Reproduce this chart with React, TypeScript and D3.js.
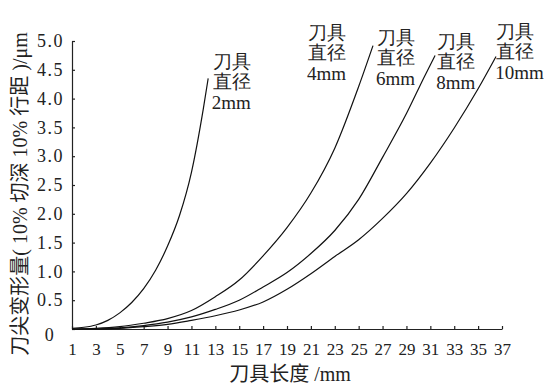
import React, { useEffect, useRef } from 'react';
import * as d3 from 'd3';

// tick values
const xTicks = [1, 3, 5, 7, 9, 11, 13, 15, 17, 19, 21, 23, 25, 27, 29, 31, 33, 35, 37];
const yTicks = [0, 0.5, 1, 1.5, 2, 2.5, 3, 3.5, 4, 4.5, 5];
const yTickLabels = ['0', '0.5', '1.0', '1.5', '2.0', '2.5', '3.0', '3.5', '4.0', '4.5', '5.0'];

// 2mm tool
const len2 = [1, 2, 3, 4, 5, 6, 7, 8, 9, 10, 11, 12, 12.4];
const dev2 = [0.01, 0.03, 0.07, 0.15, 0.28, 0.46, 0.7, 1.02, 1.44, 1.97, 2.72, 3.83, 4.35];

// the three larger tools (left to right)
const lenA = [1, 3, 5, 7, 9, 11, 13, 15, 17, 19, 21, 23, 25, 26.2];
const devA = [0, 0.01, 0.04, 0.1, 0.18, 0.32, 0.56, 0.85, 1.27, 1.76, 2.36, 3.14, 4.21, 4.92];

const lenB = [1, 3, 5, 7, 9, 11, 13, 15, 17, 19, 21, 23, 25, 27, 29, 30.5, 31.4];
const devB = [0, 0, 0.02, 0.06, 0.12, 0.21, 0.34, 0.5, 0.73, 0.98, 1.31, 1.71, 2.25, 2.98, 3.74, 4.38, 4.75];

const lenC = [1, 3, 5, 7, 9, 11, 13, 15, 17, 19, 21, 23, 25, 27, 29, 31, 33, 35, 36.5];
const devC = [0, 0, 0.01, 0.04, 0.08, 0.15, 0.23, 0.33, 0.47, 0.69, 0.96, 1.26, 1.55, 1.92, 2.35, 2.88, 3.49, 4.17, 4.73];

// curve annotations, anchored in data units (left edge, top of first line)
const labelNames = ['2mm', '4mm', '6mm', '8mm', '10mm'];
const labelLen = [12.79, 20.76, 26.54, 31.57, 36.52];
const labelTop = [4.81, 5.31, 5.23, 5.16, 5.33];

// axis titles, split into CJK / latin pieces
const xTitle = [['刀具长度', 'cjk'], [' /mm', 'lat']];
const yTitle = [['刀尖变形量', 'cjk'], ['( 10% ', 'lat'], ['切深', 'cjk'], [' 10% ', 'lat'], ['行距', 'cjk'], [' )/μm', 'lat']];

const SERIF = 'Liberation Serif';
const CJK = 'Noto Sans CJK SC';

const App = () => {
  const svgRef = useRef<SVGSVGElement | null>(null);

  useEffect(() => {
    const svg = d3.select(svgRef.current);
    svg.selectAll('*').remove();

    const x = d3.scaleLinear().domain([1, 37]).range([72, 502]);
    const y = d3.scaleLinear().domain([0, 5]).range([329, 41]);

    const xAxis = d3.axisBottom(x)
      .tickValues(xTicks)
      .tickSize(-3)
      .tickSizeOuter(0)
      .tickPadding(14)
      .tickFormat(d => String(d));

    const yAxis = d3.axisLeft(y)
      .tickValues(yTicks)
      .tickSize(-3)
      .tickSizeOuter(0)
      .tickPadding(9)
      .tickFormat((d, i) => yTickLabels[i]);

    const gx = svg.append('g')
      .attr('transform', `translate(0,${y(0)})`)
      .call(xAxis);
    gx.selectAll('text')
      .style('font-size', '17px');

    const gy = svg.append('g')
      .attr('transform', `translate(${x(1)},0)`)
      .call(yAxis);
    gy.selectAll('text')
      .style('font-size', '18px')
      .style('letter-spacing', '1.5px')
      .attr('x', d => (d === 0 ? -22 : -8))
      .attr('text-anchor', d => (d === 0 ? 'middle' : 'end'))
      .attr('dy', d => (d === 0 ? '0.62em' : '0.32em'));

    svg.selectAll('.domain, .tick line')
      .attr('stroke', '#222')
      .attr('stroke-width', 1.2);
    svg.selectAll('.tick text')
      .attr('fill', '#222')
      .style('font-family', SERIF);

    const lineGen = d3.line<number[]>()
      .x(d => x(d[0]))
      .y(d => y(d[1]))
      .curve(d3.curveMonotoneX);

    const series = [
      len2.map((v, i) => [v, dev2[i]]),
      lenA.map((v, i) => [v, devA[i]]),
      lenB.map((v, i) => [v, devB[i]]),
      lenC.map((v, i) => [v, devC[i]]),
    ];

    series.forEach(s => {
      svg.append('path')
        .datum(s)
        .attr('fill', 'none')
        .attr('stroke', '#111')
        .attr('stroke-width', 1.2)
        .attr('d', lineGen);
    });

    labelNames.forEach((name, i) => {
      const t = svg.append('text')
        .attr('fill', '#222')
        .style('font-family', SERIF)
        .style('font-size', '19px');
      const lx = x(labelLen[i]);
      const ty = y(labelTop[i]);
      t.append('tspan').attr('x', lx).attr('y', ty + 16).text('刀具');
      t.append('tspan').attr('x', lx).attr('y', ty + 36).text('直径');
      t.append('tspan').attr('x', lx - 1).attr('y', ty + 57).text(name);
    });

    const addPieces = (t, pieces) => {
      pieces.forEach(([txt, kind]) => {
        t.append('tspan')
          .style('font-family', kind === 'cjk' ? CJK : SERIF)
          .style('white-space', 'pre')
          .text(txt);
      });
    };

    const xt = svg.append('text')
      .attr('x', 290)
      .attr('y', 381)
      .attr('text-anchor', 'middle')
      .attr('fill', '#222')
      .style('font-size', '20px')
      .style('white-space', 'pre');
    addPieces(xt, xTitle);

    const yt = svg.append('text')
      .attr('transform', 'translate(27,194) rotate(-90)')
      .attr('text-anchor', 'middle')
      .attr('fill', '#222')
      .style('font-size', '20px')
      .style('white-space', 'pre');
    addPieces(yt, yTitle);
  }, []);

  return (
    <svg
      ref={svgRef}
      lang="en"
      width={544}
      height={386}
      style={{ position: 'absolute', left: 0, top: 0, background: '#fff' }}
    />
  );
};

export default App;
